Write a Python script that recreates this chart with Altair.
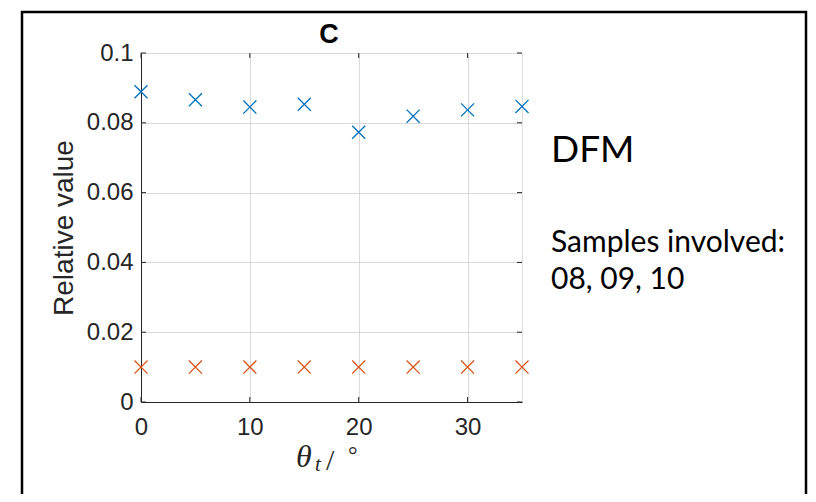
import altair as alt
import pandas as pd

# ---- data ----
theta = [0, 5, 10, 15, 20, 25, 30, 35]
series_a = [0.0889, 0.0866, 0.0845, 0.0853, 0.0773, 0.0819, 0.0837, 0.0847]
series_b = [0.0100, 0.0100, 0.0100, 0.0100, 0.0100, 0.0100, 0.0100, 0.0100]
x_ticks = [0, 10, 20, 30]
y_ticks = [0, 0.02, 0.04, 0.06, 0.08, 0.1]
panel_title = "C"
side_title = "DFM"
side_lines = ["Samples involved:", "08, 09, 10"]

W, H = 381, 349
AX = "#262626"
GRID = "#d9d9d9"
FONT = "Liberation Sans"

df = pd.DataFrame({
    "theta": theta * 2,
    "value": series_a + series_b,
    "series": ["a"] * len(theta) + ["b"] * len(theta),
})

xscale = alt.Scale(domain=[0, 35], nice=False, zero=False)
yscale = alt.Scale(domain=[0, 0.1], nice=False)

xaxis = alt.Axis(values=x_ticks, grid=True, gridColor=GRID, gridWidth=1,
                 domainColor=AX, domainWidth=1, ticks=False, labelFlush=False,
                 labelFont=FONT, labelFontSize=24, labelColor=AX,
                 labelPadding=13, title=None)
yaxis = alt.Axis(values=y_ticks, grid=True, gridColor=GRID, gridWidth=1,
                 domainColor=AX, domainWidth=1, ticks=False, format="~g",
                 labelFlush=False,
                 labelFont=FONT, labelFontSize=24, labelColor=AX,
                 labelPadding=8, title="Relative value", titleFont=FONT,
                 titleFontSize=28, titleFontWeight="normal", titleColor=AX,
                 titlePadding=8)

xshape = "M-1,-1L1,1M-1,1L1,-1"

points = alt.Chart(df).mark_point(shape=xshape, filled=False, strokeWidth=1.3,
                                  size=170, opacity=1, clip=False).encode(
    x=alt.X("theta:Q", scale=xscale, axis=xaxis),
    y=alt.Y("value:Q", scale=yscale, axis=yaxis),
    color=alt.Color("series:N", scale=alt.Scale(domain=["a", "b"],
                    range=["#0072BD", "#D95319"]), legend=None),
)

xt = pd.DataFrame({"t": x_ticks})
yt = pd.DataFrame({"v": y_ticks})
TL = 5
tick_bot = alt.Chart(xt).mark_rule(color=AX, strokeWidth=1).encode(
    x=alt.X("t:Q", scale=xscale), y=alt.value(H), y2=alt.value(H - TL))
tick_top = alt.Chart(xt).mark_rule(color=AX, strokeWidth=1).encode(
    x=alt.X("t:Q", scale=xscale), y=alt.value(0), y2=alt.value(TL))
tick_left = alt.Chart(yt).mark_rule(color=AX, strokeWidth=1).encode(
    y=alt.Y("v:Q", scale=yscale), x=alt.value(0), x2=alt.value(TL))
tick_right = alt.Chart(yt).mark_rule(color=AX, strokeWidth=1).encode(
    y=alt.Y("v:Q", scale=yscale), x=alt.value(W), x2=alt.value(W - TL))

one = pd.DataFrame({"d": [0]})

def txt(s, x, y, size, font, style="normal", weight="normal", color="black",
        align="left"):
    return alt.Chart(one).mark_text(text=s, align=align, baseline="alphabetic",
                                    font=font, fontSize=size, fontStyle=style,
                                    fontWeight=weight, color=color).encode(
        x=alt.value(x), y=alt.value(y))

# panel title
ttl = txt(panel_title, 188, -10, 27, FONT, weight="bold", align="center")

# x-axis title (theta_t / degree), LaTeX-like
SERIF = "Liberation Serif"
xt1 = txt("θ", 155, 414, 32, SERIF, style="italic", color=AX)
xt2 = txt("t", 174, 418, 21, SERIF, style="italic", color=AX)
xt3 = txt("/", 185, 417, 30, SERIF, color=AX)
xt4 = txt("°", 207, 410, 24, SERIF, color=AX)

SIDE = "Lato"
s1 = txt(side_title, 410, 109, 37, SIDE)
s2 = txt(side_lines[0], 410, 199, 30, SIDE)
s3 = txt(side_lines[1], 410, 236, 30, SIDE)

# outer frame
FR = "black"
fl = alt.Chart(one).mark_rule(color=FR, strokeWidth=2.5).encode(
    x=alt.value(-119), y=alt.value(-42), y2=alt.value(460))
fr = alt.Chart(one).mark_rule(color=FR, strokeWidth=2.5).encode(
    x=alt.value(665), y=alt.value(-42), y2=alt.value(460))
ft = alt.Chart(one).mark_rule(color=FR, strokeWidth=2.5).encode(
    y=alt.value(-41), x=alt.value(-120), x2=alt.value(666))

chart = alt.layer(
    points, tick_bot, tick_top, tick_left, tick_right, ttl,
    xt1, xt2, xt3, xt4, s1, s2, s3, fl, fr, ft,
).properties(
    width=W, height=H,
    autosize=alt.AutoSizeParams(type="none"),
    padding={"left": 133, "top": 45, "right": 286, "bottom": 92},
).configure_view(stroke=AX, strokeWidth=1).configure(background="white")

chart.save("out.html", embed_options={"renderer": "svg", "actions": False})
